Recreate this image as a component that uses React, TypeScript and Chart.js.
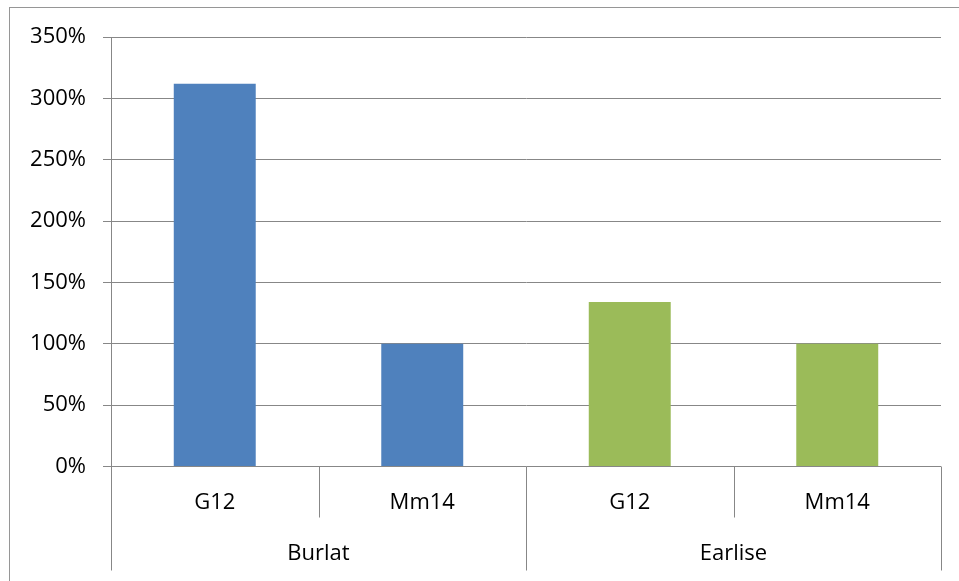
import React, { useEffect, useRef } from "react";
import { Chart, registerables } from "chart.js";

Chart.register(...registerables);

// Cultivar groups and the rootstocks under each one
const groups = ["Burlat", "Earlise"];
const categories = ["G12", "Mm14", "G12", "Mm14"];

// Relative values (%) per rootstock
const burlatValues = [312, 100];
const earliseValues = [134, 100];

// Value axis
const yMin = 0;
const yMax = 350;
const yStep = 50;

const FONT = "'Open Sans', 'DejaVu Sans', sans-serif";
const FONT_SIZE = 22;
const GRID = "#878787";
const FRAME = "#969696";

// Two-level category axis drawn under the plot: rootstock names, then cultivar names
const groupedAxis = {
  id: "groupedAxis",
  beforeDraw(chart: any) {
    const ctx = chart.ctx;
    ctx.save();
    ctx.strokeStyle = FRAME;
    ctx.lineWidth = 1;
    ctx.strokeRect(9.5, 7.5, chart.width + 10, chart.height + 10);
    ctx.restore();
  },
  afterDraw(chart: any) {
    const ctx = chart.ctx;
    const area = chart.chartArea;
    const x = chart.scales.x;
    const n = categories.length;
    const centers = categories.map((_, i) => x.getPixelForValue(i));
    const edges: number[] = [area.left];
    for (let i = 0; i < n - 1; i++) edges.push((centers[i] + centers[i + 1]) / 2);
    edges.push(area.right);

    const perGroup = n / groups.length;
    const subBottom = area.bottom + 51;
    const groupBottom = area.bottom + 104;

    ctx.save();
    ctx.strokeStyle = GRID;
    ctx.lineWidth = 1;
    edges.forEach((ex, i) => {
      const isGroupEdge = i % perGroup === 0;
      const px = Math.round(ex) + 0.5;
      ctx.beginPath();
      ctx.moveTo(px, area.bottom);
      ctx.lineTo(px, isGroupEdge ? groupBottom : subBottom);
      ctx.stroke();
    });

    ctx.fillStyle = "#000";
    ctx.font = `${FONT_SIZE}px ${FONT}`;
    ctx.textAlign = "center";
    ctx.textBaseline = "middle";
    categories.forEach((c, i) => {
      ctx.fillText(c, centers[i], area.bottom + 36);
    });
    groups.forEach((g, gi) => {
      const l = edges[gi * perGroup];
      const r = edges[(gi + 1) * perGroup];
      ctx.fillText(g, (l + r) / 2, area.bottom + 87);
    });
    ctx.restore();
  },
};

export default function App() {
  const canvasRef = useRef<HTMLCanvasElement | null>(null);

  useEffect(() => {
    document.body.style.margin = "0";
    const canvas = canvasRef.current;
    if (!canvas) return;

    const burlatData = [...burlatValues, ...earliseValues.map(() => null)];
    const earliseData = [...burlatValues.map(() => null), ...earliseValues];

    const chart = new Chart(canvas, {
      type: "bar",
      data: {
        labels: categories,
        datasets: [
          { label: groups[0], data: burlatData, backgroundColor: "#4F81BD" },
          { label: groups[1], data: earliseData, backgroundColor: "#9BBB59" },
        ],
      },
      plugins: [groupedAxis],
      options: {
        animation: false,
        responsive: true,
        maintainAspectRatio: false,
        skipNull: true,
        datasets: {
          bar: { categoryPercentage: 1, barPercentage: 0.395 },
        },
        layout: { padding: { top: 37, right: 18, bottom: 0, left: 0 } },
        plugins: {
          legend: { display: false },
          tooltip: { enabled: false },
        },
        scales: {
          x: {
            ticks: { display: false },
            grid: { display: false },
            border: { display: false },
            afterFit: (scale: any) => {
              scale.height = 114.5;
            },
          },
          y: {
            min: yMin,
            max: yMax,
            ticks: {
              stepSize: yStep,
              padding: 17,
              color: "#000",
              font: { family: FONT, size: FONT_SIZE },
              callback: (v: any) => `${v}%`,
            },
            grid: { color: GRID, lineWidth: 1, tickLength: 8 },
            border: { display: true, color: GRID, width: 1 },
            afterFit: (scale: any) => {
              scale.width = 111;
            },
          },
        },
      } as any,
    });

    return () => chart.destroy();
  }, []);

  return (
    <div style={{ position: "relative", width: 959, height: 581 }}>
      <canvas ref={canvasRef} />
    </div>
  );
}
